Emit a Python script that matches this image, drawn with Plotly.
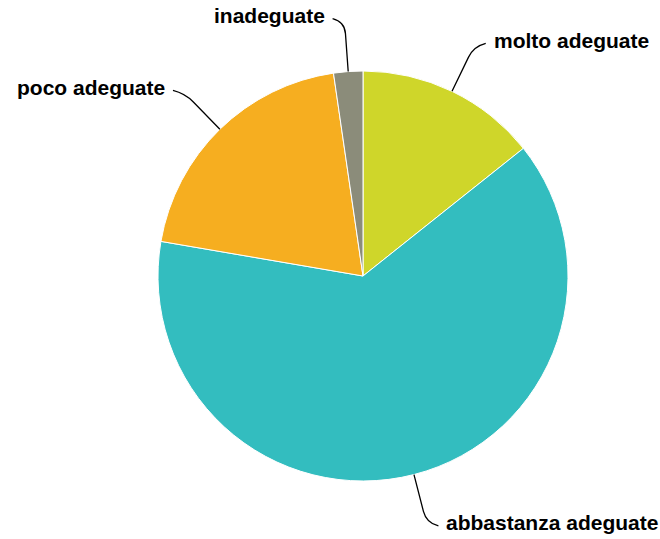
import math
import plotly.graph_objects as go

labels = ["molto adeguate", "abbastanza adeguate", "poco adeguate", "inadeguate"]
values = [14.3, 63.4, 20.0, 2.3]
colors = ["#cfd62a", "#33bdbf", "#f6ae20", "#8b8c7a"]

W, H = 660, 539
cx, cy, r = 363, 276, 205   # pie centre / radius in figure pixels
lead = 50                    # leader length beyond the rim

fig = go.Figure(go.Pie(
    labels=labels, values=values, sort=False, direction="clockwise", rotation=0,
    marker=dict(colors=colors, line=dict(color="white", width=1)),
    textinfo="none", hoverinfo="label+percent", showlegend=False,
    domain=dict(x=[(cx - r) / W, (cx + r) / W], y=[(H - cy - r) / H, (H - cy + r) / H]),
))

def px(x, y):
    return x / W, 1 - y / H

total = sum(values)
cum = 0
shapes, annotations = [], []
for lab, v in zip(labels, values):
    mid = (cum + v / 2) / total * 2 * math.pi
    cum += v
    dx, dy = math.sin(mid), -math.cos(mid)
    p0 = (cx + r * dx, cy + r * dy)
    a = (cx + (r + lead - 12) * dx, cy + (r + lead - 12) * dy)
    c = (cx + (r + lead) * dx, cy + (r + lead) * dy)
    side = 1 if dx >= 0 else -1
    b = (c[0] + side * 12, c[1] - 3 * (1 if dy < 0 else -1))
    pts = [px(*p) for p in (p0, a, c, b)]
    path = "M {:.5f},{:.5f} L {:.5f},{:.5f} Q {:.5f},{:.5f} {:.5f},{:.5f}".format(
        pts[0][0], pts[0][1], pts[1][0], pts[1][1], pts[2][0], pts[2][1], pts[3][0], pts[3][1])
    shapes.append(dict(type="path", xref="paper", yref="paper", path=path,
                       line=dict(color="black", width=1.3)))
    lx, ly = px(b[0] + side * 6, b[1] - 3)
    annotations.append(dict(x=lx, y=ly, xref="paper", yref="paper", text="<b>%s</b>" % lab,
                            showarrow=False, xanchor="left" if side > 0 else "right",
                            yanchor="middle", font=dict(size=21, color="black",
                                                        family="Liberation Sans, Arial, sans-serif")))

fig.update_layout(width=W, height=H, autosize=False, margin=dict(l=0, r=0, t=0, b=0),
                  paper_bgcolor="white", plot_bgcolor="white",
                  shapes=shapes, annotations=annotations)
fig.write_html("out.html", config={"displayModeBar": False},
               post_script="document.body.style.margin='0';document.body.style.overflow='hidden';")
